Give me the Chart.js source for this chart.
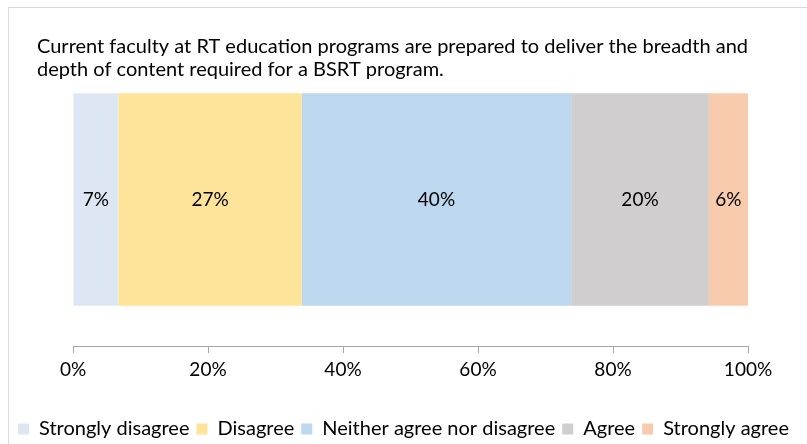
<!DOCTYPE html>
<html>
<head>
<meta charset="utf-8">
<script src="https://cdn.jsdelivr.net/npm/chart.js@4.4.0/dist/chart.umd.min.js"></script>
<style>
  html, body { margin: 0; padding: 0; background: #fff; }
  #wrap { width: 807px; height: 444px; position: relative; }
</style>
</head>
<body>
<div id="wrap"><canvas id="chart" width="807" height="444"></canvas></div>
<script>
"use strict";

// values (percent of respondents)
const question = [
  "Current faculty at RT education programs are prepared to deliver the breadth and",
  "depth of content required for a BSRT program.",
];
const responses = ["Strongly disagree", "Disagree", "Neither agree nor disagree", "Agree", "Strongly agree"];
const shares = [6.7, 27.2, 39.9, 20.4, 5.8];
const colors = ["#dde7f4", "#fee39b", "#bdd7ee", "#d0cece", "#f8cbad"];
const ticks = [0, 20, 40, 60, 80, 100];

const font = "Lato, 'Open Sans', sans-serif";

// frame + question text
const framePlugin = {
  id: "frame",
  beforeDraw(chart) {
    const ctx = chart.ctx;
    ctx.save();
    ctx.strokeStyle = "#d9d9d9";
    ctx.lineWidth = 1;
    ctx.beginPath();
    ctx.moveTo(8.5, 444);
    ctx.lineTo(8.5, 7.5);
    ctx.lineTo(807, 7.5);
    ctx.stroke();
    ctx.fillStyle = "#000";
    ctx.font = "20px " + font;
    ctx.textBaseline = "middle";
    question.forEach((line, i) => ctx.fillText(line, 37, 47 + i * 23));
    ctx.restore();
  },
};

// percent labels in the middle of each segment
const labelPlugin = {
  id: "segLabels",
  afterDatasetsDraw(chart) {
    const ctx = chart.ctx;
    ctx.save();
    ctx.fillStyle = "#000";
    ctx.font = "19px " + font;
    ctx.textAlign = "center";
    ctx.textBaseline = "middle";
    chart.data.datasets.forEach((ds, i) => {
      const bar = chart.getDatasetMeta(i).data[0];
      const x = (bar.x + bar.base) / 2;
      ctx.fillText(Math.round(ds.data[0]) + "%", x, bar.y);
    });
    ctx.restore();
  },
};

// empty side axes just to reserve room left / right of the bar
const spacer = (w, pos) => ({
  position: pos,
  display: true,
  stacked: true,
  ticks: { display: false },
  grid: { display: false },
  border: { display: false },
  afterFit: (axis) => {
    axis.width = w;
  },
});

new Chart(document.getElementById("chart"), {
  type: "bar",
  data: {
    labels: [""],
    datasets: responses.map((r, i) => ({
      label: r,
      data: [shares[i]],
      backgroundColor: colors[i],
      borderWidth: 0,
      barPercentage: 1,
      categoryPercentage: 0.726,
    })),
  },
  options: {
    indexAxis: "y",
    responsive: false,
    animation: false,
    layout: { padding: { left: 0, right: 0, top: 53, bottom: -5 } },
    scales: {
      x: {
        stacked: true,
        min: 0,
        max: 100,
        afterBuildTicks: (axis) => {
          axis.ticks = ticks.map((v) => ({ value: v }));
        },
        afterFit: (axis) => {
          axis.height = 66;
        },
        ticks: {
          callback: (v) => v + "%",
          color: "#000",
          font: { family: font, size: 19 },
          padding: 5,
          maxRotation: 0,
        },
        grid: {
          drawOnChartArea: false,
          drawTicks: true,
          tickLength: 7,
          color: "#a6a6a6",
        },
        border: { color: "#a6a6a6" },
      },
      y: spacer(73, "left"),
      y2: spacer(59, "right"),
    },
    plugins: {
      legend: {
        position: "bottom",
        labels: {
          color: "#000",
          font: { family: font, size: 20 },
          boxWidth: 11,
          boxHeight: 11,
          padding: 7,
        },
      },
      tooltip: { enabled: false },
    },
  },
  plugins: [framePlugin, labelPlugin],
});
</script>
</body>
</html>
